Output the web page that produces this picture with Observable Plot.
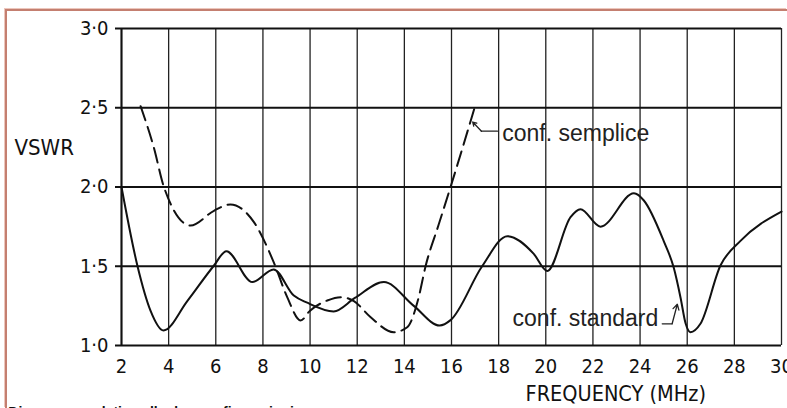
<!DOCTYPE html>
<html><head><meta charset="utf-8">
<script src="https://cdn.jsdelivr.net/npm/d3@7"></script>
<script src="https://cdn.jsdelivr.net/npm/@observablehq/plot@0.6"></script>
<style>
body{margin:0;background:#fff;overflow:hidden;}
#frame{position:absolute;left:5px;top:9px;width:782px;height:399px;border-top:2px solid #c47f70;border-left:2px solid #c47f70;box-sizing:border-box;box-shadow:-1px -1px 0 #ecc6bc;}
#chart{position:absolute;left:0;top:0;}
</style></head><body>
<div id="frame"></div><div id="chart"></div>
<script>
// Tick values
const xTicks = [2,4,6,8,10,12,14,16,18,20,22,24,26,28,30];
const yTicks = [1.0,1.5,2.0,2.5,3.0];

// conf. standard (solid)
const standardF = [2,2.68,3.23,3.78,4.79,5.9,6.45,7.55,8.45,9.31,9.88,11.0,11.9,13.13,14.4,15.5,15.96,17.3,18.37,19.48,20.06,21.05,21.47,22.32,23.74,24.16,25.0,25.43,25.72,25.93,26.14,26.56,27.41,28.26,30];
const standardV = [2.0,1.5,1.22,1.095,1.28,1.5,1.595,1.40,1.48,1.315,1.27,1.215,1.30,1.40,1.25,1.126,1.16,1.5,1.69,1.58,1.47,1.81,1.86,1.75,1.96,1.915,1.66,1.49,1.30,1.14,1.084,1.137,1.505,1.66,1.845];

// conf. semplice (dashed)
const sempliceF = [2.81,3.37,3.8,4.93,5.92,6.62,7.61,8.46,9.03,9.6,10.0,10.73,11.3,11.86,12.56,13.55,14.12,14.6,14.9,15.45,15.96,17.0];
const sempliceV = [2.51,2.25,2.0,1.757,1.85,1.89,1.78,1.525,1.305,1.158,1.22,1.284,1.305,1.28,1.18,1.084,1.115,1.3,1.5,1.76,2.0,2.51];

// annotation texts
const seriesNames = ["conf. semplice","conf. standard"];
const labelF = [18.15,18.59];
const labelV = [2.293,1.123];
const leaderF = [[17.95,17.27],[24.94,25.36]];
const leaderV = [[2.352,2.352],[1.137,1.137]];
const arrowTip = [[16.9,2.41],[25.58,1.26]];

const axisTitles = ["VSWR","FREQUENCY (MHz)"];
const caption = "Diagramma relativo alle due configurazioni";

const standard = standardF.map((f,i)=>({f, v: standardV[i]}));
const semplice = sempliceF.map((f,i)=>({f, v: sempliceV[i]}));
const labels = seriesNames.map((t,i)=>({t, f: labelF[i], v: labelV[i]}));
const leaders = [];
leaderF.forEach((fs,k)=>fs.forEach((f,j)=>leaders.push({k, f, v: leaderV[k][j]})));
const arrows = arrowTip.map((p,k)=>({x1: leaderF[k][1], y1: leaderV[k][1], x2: p[0], y2: p[1]}));

const fmtY = d => d.toFixed(1).replace(".", "·");
const techFont = "'DejaVu Sans Condensed','DejaVu Sans',sans-serif";

const plot = Plot.plot({
  width: 787, height: 408,
  marginLeft: 121, marginRight: 6, marginTop: 28, marginBottom: 63,
  x: {domain: [2,30]},
  y: {domain: [1,3]},
  style: {background: "transparent", fontFamily: techFont, fontSize: "20px", color: "#111"},
  marks: [
    Plot.ruleX(xTicks, {stroke: "#222", strokeWidth: 1.3}),
    Plot.ruleY(yTicks, {stroke: "#111", strokeWidth: 2}),
    Plot.ruleX([2], {stroke: "#111", strokeWidth: 2}),
    Plot.axisY({ticks: yTicks, tickSize: 6, tickPadding: 7, tickFormat: fmtY, label: null, fontSize: 20, strokeWidth: 2}),
    Plot.axisX({ticks: xTicks, tickSize: 0, tickPadding: 13, tickFormat: d => String(d), label: null, fontSize: 20}),
    Plot.line(standard, {x: "f", y: "v", curve: "monotone-x", stroke: "#111", strokeWidth: 2}),
    Plot.line(semplice, {x: "f", y: "v", curve: "monotone-x", stroke: "#111", strokeWidth: 2, strokeDasharray: "15,7"}),
    Plot.line(leaders, {x: "f", y: "v", z: "k", stroke: "#222", strokeWidth: 1.3}),
    Plot.arrow(arrows, {x1: "x1", y1: "y1", x2: "x2", y2: "y2", stroke: "#222", strokeWidth: 1.3, headLength: 7, bend: 0}),
    Plot.text(labels, {x: "f", y: "v", text: "t", textAnchor: "start", lineAnchor: "bottom", fontSize: 23, fontFamily: "'Liberation Sans',Arial,sans-serif", fill: "#222"}),
    Plot.text([axisTitles[0]], {x: -2.54, y: 2.249, text: d => d, textAnchor: "start", fontSize: 22, fontFamily: techFont}),
    Plot.text([axisTitles[1]], {x: 19.14, y: 0.65, text: d => d, textAnchor: "start", lineAnchor: "bottom", fontSize: 21.5, fontFamily: techFont}),
    Plot.text([caption], {x: -2.8, y: 0.61, text: d => d, textAnchor: "start", lineAnchor: "top", fontSize: 14, fontWeight: "bold", fontFamily: "'Liberation Sans',Arial,sans-serif"})
  ]
});
document.getElementById("chart").appendChild(plot);
</script>
</body></html>
